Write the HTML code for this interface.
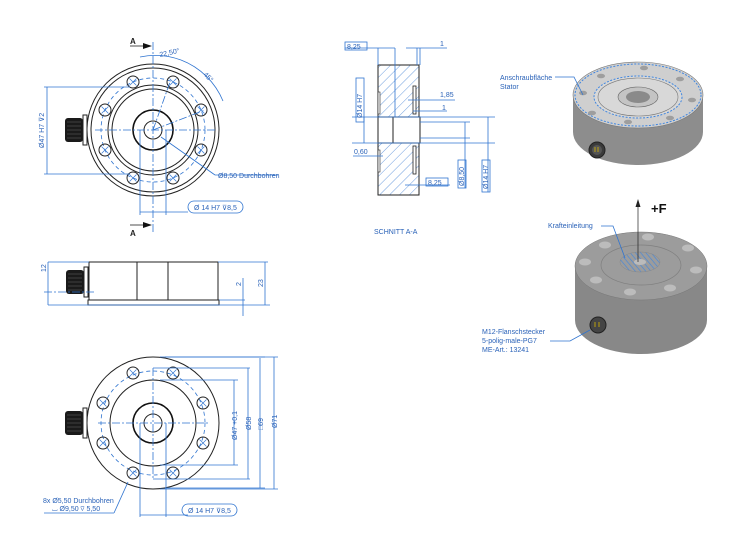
<!DOCTYPE html>
<html><head><meta charset="utf-8"><style>
html,body{margin:0;padding:0;background:#fff;}
svg{display:block;font-family:"Liberation Sans",sans-serif;}
.k{fill:none;stroke:#222;stroke-width:1}
.kb{fill:none;stroke:#111;stroke-width:1.6}
.b{fill:none;stroke:#2f74d0;stroke-width:0.8}
.cl{fill:none;stroke:#2f74d0;stroke-width:0.8;stroke-dasharray:8 2 2 2}
.d{fill:none;stroke:#2f74d0;stroke-width:0.8;stroke-dasharray:4 3}
.t{fill:#2a62b8;font-size:7px}
.h{fill:none;stroke:#2f74d0;stroke-width:0.6}
</style></head><body>
<svg width="752" height="550" viewBox="0 0 752 550" xmlns="http://www.w3.org/2000/svg">
<defs>
<pattern id="hat" width="7" height="7" patternUnits="userSpaceOnUse" patternTransform="rotate(45)">
<line x1="0" y1="0" x2="0" y2="7" stroke="#2f74d0" stroke-width="0.7"/></pattern>
<pattern id="hat2" width="4" height="4" patternUnits="userSpaceOnUse" patternTransform="rotate(-40)">
<line x1="0" y1="0" x2="0" y2="4" stroke="#3f86e0" stroke-width="1.2"/></pattern>
<g id="bolt"><circle r="6" class="k"/><path d="M-3.5,-3.5L3.5,3.5M-3.5,3.5L3.5,-3.5" stroke="#2f74d0" stroke-width="0.7"/></g>
<g id="conn"><rect x="0" y="0" width="18" height="24" rx="3" fill="#1a1a1a"/>
<path d="M2,4H16M2,8H16M2,12H16M2,16H16M2,20H16" stroke="#666" stroke-width="0.6"/>
<rect x="18" y="-3" width="4" height="30" fill="#fff" stroke="#222"/></g>
</defs>

<!-- TOP VIEW -->
<g>
<circle cx="153" cy="130" r="66" class="k"/>
<circle cx="153" cy="130" r="62" class="k"/>
<circle cx="153" cy="130" r="52" class="d"/>
<circle cx="153" cy="130" r="45" class="k"/>
<circle cx="153" cy="130" r="41" class="k"/>
<circle cx="153" cy="130" r="20" class="kb"/>
<circle cx="153" cy="130" r="9" class="k"/>
<use href="#bolt" x="133" y="82"/><use href="#bolt" x="173" y="82"/>
<use href="#bolt" x="201" y="110"/><use href="#bolt" x="201" y="150"/>
<use href="#bolt" x="173" y="178"/><use href="#bolt" x="133" y="178"/>
<use href="#bolt" x="105" y="150"/><use href="#bolt" x="105" y="110"/>
<use href="#conn" x="65" y="118"/>
<line x1="153" y1="42" x2="153" y2="232" class="cl"/>
<line x1="95" y1="130" x2="215" y2="130" class="cl"/>
<line x1="153" y1="130" x2="170" y2="82" class="cl"/>
<line x1="153" y1="130" x2="205" y2="110" class="cl"/>
<path d="M140,57 A74,74 0 0 1 181,60" class="b"/>
<path d="M181,60 A74,74 0 0 1 223,101" class="b"/>
<text x="160" y="57" class="t" transform="rotate(-12 160 57)">22,50°</text>
<text x="203" y="75" class="t" transform="rotate(45 203 75)">45°</text>
<line x1="44" y1="87" x2="130" y2="87" class="b"/>
<line x1="44" y1="174" x2="130" y2="174" class="b"/>
<line x1="47" y1="87" x2="47" y2="174" class="b"/>
<text x="44" y="148" class="t" transform="rotate(-90 44 148)">Ø47 H7 ⊽2</text>
<line x1="161" y1="137" x2="215" y2="175" class="b"/>
<line x1="215" y1="175" x2="278" y2="175" class="b"/>
<text x="218" y="178" class="t" font-size="6.5">Ø8,50 Durchbohren</text>
<line x1="140" y1="130" x2="140" y2="215" class="b"/><line x1="166" y1="130" x2="166" y2="215" class="b"/>
<line x1="140" y1="212" x2="188" y2="212" class="b"/>
<rect x="188" y="201" width="55" height="12" rx="6" class="b"/>
<text x="194" y="210" class="t" font-size="6.5">Ø 14 H7 ⊽8,5</text>
<text x="130" y="44" font-size="8" font-weight="bold" fill="#222">A</text>
<path d="M130,46H146" stroke="#222" stroke-width="0.8"/><path d="M143,43L152,46L143,49Z" fill="#111"/>
<text x="130" y="236" font-size="8" font-weight="bold" fill="#222">A</text>
<path d="M130,225H146" stroke="#222" stroke-width="0.8"/><path d="M143,222L152,225L143,228Z" fill="#111"/>
</g>

<!-- SIDE VIEW -->
<g>
<rect x="89" y="262" width="129" height="38" class="k"/>
<rect x="88" y="300" width="131" height="5" class="k"/>
<line x1="137" y1="262" x2="137" y2="300" class="k"/><line x1="168" y1="262" x2="168" y2="300" class="k"/>
<use href="#conn" x="66" y="270"/>
<line x1="48" y1="262" x2="89" y2="262" class="b"/>
<line x1="48" y1="305" x2="270" y2="305" class="b"/>
<line x1="48" y1="262" x2="48" y2="305" class="b"/>
<line x1="44" y1="292" x2="95" y2="292" class="cl"/>
<text x="46" y="272" class="t" transform="rotate(-90 46 272)">12</text>
<line x1="218" y1="262" x2="268" y2="262" class="b"/>
<line x1="265" y1="262" x2="265" y2="305" class="b"/>
<text x="263" y="287" class="t" transform="rotate(-90 263 287)">23</text>
<line x1="219" y1="300" x2="245" y2="300" class="b"/>
<line x1="243" y1="278" x2="243" y2="316" class="b"/>
<text x="241" y="286" class="t" transform="rotate(-90 241 286)">2</text>
</g>

<!-- BOTTOM VIEW -->
<g>
<circle cx="153" cy="423" r="66" class="k"/>
<circle cx="153" cy="423" r="52" class="d"/>
<circle cx="153" cy="423" r="43" class="k"/>
<circle cx="153" cy="423" r="20" class="kb"/>
<circle cx="153" cy="423" r="9" class="k"/>
<use href="#bolt" x="133" y="373"/><use href="#bolt" x="173" y="373"/>
<use href="#bolt" x="203" y="403"/><use href="#bolt" x="203" y="443"/>
<use href="#bolt" x="173" y="473"/><use href="#bolt" x="133" y="473"/>
<use href="#bolt" x="103" y="443"/><use href="#bolt" x="103" y="403"/>
<use href="#conn" x="65" y="411"/>
<line x1="153" y1="368" x2="153" y2="480" class="cl"/>
<line x1="98" y1="423" x2="210" y2="423" class="cl"/>
<line x1="153" y1="368" x2="250" y2="368" class="b"/><line x1="153" y1="479" x2="250" y2="479" class="b"/>
<line x1="160" y1="380" x2="238" y2="380" class="b"/><line x1="160" y1="465" x2="238" y2="465" class="b"/>
<line x1="165" y1="357" x2="265" y2="357" class="b"/><line x1="165" y1="488" x2="265" y2="488" class="b"/>
<line x1="160" y1="357" x2="278" y2="357" class="b"/><line x1="160" y1="489" x2="278" y2="489" class="b"/>
<line x1="234" y1="380" x2="234" y2="465" class="b"/>
<line x1="248" y1="368" x2="248" y2="479" class="b"/>
<line x1="260" y1="358" x2="260" y2="488" class="b"/>
<line x1="274" y1="357" x2="274" y2="489" class="b"/>
<text x="237" y="440" class="t" transform="rotate(-90 237 440)">Ø47 +0,1</text>
<text x="251" y="430" class="t" transform="rotate(-90 251 430)">Ø58</text>
<text x="263" y="430" class="t" transform="rotate(-90 263 430)">□69</text>
<text x="277" y="428" class="t" transform="rotate(-90 277 428)">Ø71</text>
<line x1="140" y1="423" x2="140" y2="517" class="b"/><line x1="166" y1="423" x2="166" y2="517" class="b"/>
<line x1="140" y1="515" x2="188" y2="515" class="b"/>
<rect x="182" y="504" width="55" height="12" rx="6" class="b"/>
<text x="188" y="513" class="t" font-size="6.5">Ø 14 H7 ⊽8,5</text>
<line x1="128" y1="482" x2="114" y2="513" class="b"/>
<line x1="44" y1="513" x2="114" y2="513" class="b"/>
<text x="43" y="503" class="t" font-size="6.5">8x  Ø5,50 Durchbohren</text>
<text x="52" y="511" class="t" font-size="6.5">⌴ Ø9,50 ⊽ 5,50</text>
</g>

<!-- SECTION -->
<g>
<rect x="378" y="65" width="41" height="130" fill="url(#hat)" stroke="#222" stroke-width="1"/>
<rect x="378" y="117" width="42" height="26" fill="#fff" stroke="#222"/>
<line x1="393" y1="117" x2="393" y2="143" class="k"/>
<rect x="413" y="86" width="3" height="28" fill="#fff" stroke="#222" stroke-width="0.8"/>
<rect x="413" y="146" width="3" height="28" fill="#fff" stroke="#222" stroke-width="0.8"/>
<rect x="378" y="92" width="2" height="22" fill="#fff" stroke="#222" stroke-width="0.6"/>
<rect x="378" y="150" width="2" height="22" fill="#fff" stroke="#222" stroke-width="0.6"/>
<line x1="395" y1="48" x2="395" y2="117" class="b"/>
<line x1="378" y1="48" x2="378" y2="65" class="b"/>
<line x1="345" y1="48" x2="395" y2="48" class="b"/>
<rect x="345" y="42" width="22" height="8" class="b"/>
<text x="347" y="49" class="t" font-size="6.5">8,25</text>
<line x1="420" y1="48" x2="420" y2="65" class="b"/><line x1="417" y1="48" x2="417" y2="65" class="b"/>
<line x1="406" y1="48" x2="447" y2="48" class="b"/>
<text x="440" y="46" class="t">1</text>
<line x1="408" y1="100" x2="455" y2="100" class="b"/><text x="440" y="97" class="t">1,85</text>
<line x1="413" y1="111" x2="447" y2="111" class="b"/><text x="442" y="110" class="t">1</text>
<line x1="352" y1="117" x2="495" y2="117" class="b"/>
<line x1="352" y1="143" x2="495" y2="143" class="b"/>
<line x1="420" y1="122" x2="470" y2="122" class="b"/>
<line x1="420" y1="138" x2="470" y2="138" class="b"/>
<line x1="364" y1="117" x2="364" y2="143" class="b"/>
<rect x="356" y="78" width="8" height="44" class="b"/>
<text x="362" y="118" class="t" font-size="6.5" transform="rotate(-90 362 118)">Ø14 H7</text>
<line x1="465" y1="122" x2="465" y2="188" class="b"/>
<rect x="458" y="160" width="8" height="28" class="b"/>
<text x="464" y="186" class="t" font-size="6.5" transform="rotate(-90 464 186)">Ø8,50</text>
<line x1="488" y1="117" x2="488" y2="192" class="b"/>
<rect x="482" y="160" width="8" height="32" class="b"/>
<text x="488" y="189" class="t" font-size="6.5" transform="rotate(-90 488 189)">Ø14 H7</text>
<line x1="353" y1="156" x2="383" y2="156" class="b"/><text x="354" y="154" class="t">0,60</text>
<line x1="405" y1="185" x2="450" y2="185" class="b"/>
<rect x="426" y="178" width="22" height="8" class="b"/><text x="428" y="185" class="t" font-size="6.5">8,25</text>
<text x="374" y="234" class="t" font-size="7.5">SCHNITT A-A</text>
</g>

<!-- 3D TOP -->
<g>
<path d="M573,95 V132 A65,33 0 0 0 703,132 V95 Z" fill="#8d8d8d"/>
<ellipse cx="638" cy="95" rx="65" ry="33" fill="#cfcfcf" stroke="#777" stroke-width="0.6"/>
<ellipse cx="638" cy="95" rx="63" ry="31" fill="none" stroke="#3f86e0" stroke-width="1" stroke-dasharray="2 1.5"/>
<ellipse cx="638" cy="97" rx="44" ry="21" fill="#d8d8d8" stroke="#3f86e0" stroke-width="1" stroke-dasharray="2 1.5"/>
<ellipse cx="638" cy="97" rx="40" ry="19" fill="none" stroke="#777" stroke-width="0.6"/>
<ellipse cx="638" cy="97" rx="20" ry="10" fill="#c4c4c4" stroke="#666" stroke-width="0.6"/>
<ellipse cx="638" cy="97" rx="12" ry="6" fill="#8a8a8a"/>
<g fill="#9e9e9e"><ellipse cx="601" cy="76" rx="4" ry="2.3"/><ellipse cx="644" cy="68" rx="4" ry="2.3"/><ellipse cx="680" cy="79" rx="4" ry="2.3"/><ellipse cx="692" cy="100" rx="4" ry="2.3"/><ellipse cx="670" cy="118" rx="4" ry="2.3"/><ellipse cx="628" cy="122" rx="4" ry="2.3"/><ellipse cx="592" cy="113" rx="4" ry="2.3"/><ellipse cx="583" cy="93" rx="4" ry="2.3"/></g>
<circle cx="597" cy="150" r="8" fill="#3a3a3a" stroke="#222"/><circle cx="597" cy="150" r="5" fill="#555"/>
<path d="M595,147v5M598,147v5" stroke="#d8b600" stroke-width="0.8"/>
<text x="500" y="80" class="t">Anschraubfläche</text>
<text x="500" y="89" class="t">Stator</text>
<path d="M555,77H574L583,95" class="b"/>
</g>

<!-- 3D BOTTOM -->
<g>
<path d="M575,266 V320 A66,34 0 0 0 707,320 V266 Z" fill="#888"/>
<ellipse cx="641" cy="266" rx="66" ry="34" fill="#9c9c9c" stroke="#777" stroke-width="0.5"/>
<ellipse cx="641" cy="265" rx="40" ry="20" fill="none" stroke="#7f7f7f" stroke-width="0.7"/>
<ellipse cx="640" cy="262" rx="20" ry="10" fill="url(#hat2)" stroke="#888" stroke-width="0.5"/>
<ellipse cx="640" cy="262" rx="6" ry="3" fill="#bbb"/>
<g fill="#bcbcbc"><ellipse cx="605" cy="245" rx="6" ry="3.5"/><ellipse cx="648" cy="237" rx="6" ry="3.5"/><ellipse cx="688" cy="248" rx="6" ry="3.5"/><ellipse cx="696" cy="270" rx="6" ry="3.5"/><ellipse cx="670" cy="288" rx="6" ry="3.5"/><ellipse cx="630" cy="292" rx="6" ry="3.5"/><ellipse cx="596" cy="280" rx="6" ry="3.5"/><ellipse cx="585" cy="262" rx="6" ry="3.5"/></g>
<circle cx="598" cy="325" r="8" fill="#444" stroke="#222"/>
<path d="M595,322v5M599,322v5" stroke="#d8b600" stroke-width="0.8"/>
<line x1="638" y1="262" x2="638" y2="205" stroke="#222" stroke-width="0.7"/>
<path d="M635.5,207L638,199L640.5,207Z" fill="#222"/>
<text x="651" y="213" font-size="13" font-weight="bold" fill="#111">+F</text>
<text x="548" y="228" class="t">Krafteinleitung</text>
<path d="M601,226H613L625,258" class="b"/>
<text x="482" y="334" class="t">M12-Flanschstecker</text>
<text x="482" y="343" class="t">5-polig-male-PG7</text>
<text x="482" y="352" class="t">ME-Art.: 13241</text>
<path d="M550,341H570L590,330" class="b"/>
</g>
</svg>
</body></html>
